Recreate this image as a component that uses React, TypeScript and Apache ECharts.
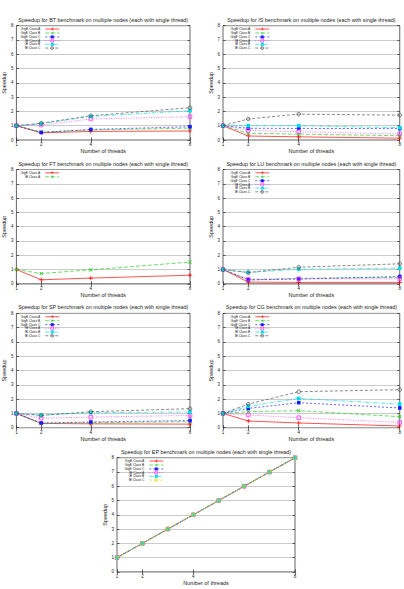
import { useEffect, useRef } from 'react';
import * as echarts from 'echarts';

// Series labels shared by the panels
const seriesNames = ['GigE Class A', 'GigE Class B', 'GigE Class C', 'IB Class A', 'IB Class B', 'IB Class C'];
const ftSeriesNames = ['GigE Class A', 'IB Class A'];

// Node counts on the x axis
const nodeCounts = [1, 2, 4, 8];
const epNodeCounts = [1, 2, 3, 4, 5, 6, 7, 8];
const xTickValues = [1, 2, 4, 8];

// Speedup values, one row per series (GigE A, GigE B, GigE C, IB A, IB B, IB C)
const btSpeedup = [
  [1, 0.5, 0.6, 0.63],
  [1, 0.55, 0.7, 0.83],
  [1, 0.53, 0.74, 0.93],
  [1, 1.05, 1.47, 1.63],
  [1, 1.15, 1.65, 2.05],
  [1, 1.17, 1.7, 2.26],
];
const isSpeedup = [
  [1, 0.28, 0.22, 0.13],
  [1, 0.47, 0.41, 0.3],
  [1, 0.82, 0.81, 0.8],
  [1, 0.68, 0.58, 0.42],
  [1, 1.0, 1.0, 0.86],
  [1, 1.47, 1.81, 1.74],
];
const ftSpeedup = [
  [1, 0.28, 0.4, 0.6],
  [1, 0.72, 0.98, 1.52],
];
const luSpeedup = [
  [1, 0.12, 0.1, 0.1],
  [1, 0.27, 0.38, 0.45],
  [1, 0.28, 0.33, 0.51],
  [1, 0.33, 0.35, 0.35],
  [1, 0.79, 1.02, 1.09],
  [1, 0.79, 1.16, 1.4],
];
const spSpeedup = [
  [1, 0.3, 0.27, 0.25],
  [1, 0.3, 0.35, 0.42],
  [1, 0.33, 0.4, 0.5],
  [1, 0.67, 0.74, 0.86],
  [1, 0.88, 1.05, 1.1],
  [1, 0.86, 1.12, 1.33],
];
const cgSpeedup = [
  [1, 0.47, 0.33, 0.12],
  [1, 1.12, 1.19, 0.77],
  [1, 1.35, 1.75, 1.38],
  [1, 0.89, 0.7, 0.37],
  [1, 1.5, 2.05, 1.65],
  [1, 1.65, 2.52, 2.66],
];
const epSpeedup = [
  [1, 2, 3, 4, 5, 6, 7, 8],
  [1, 2, 3, 4, 5, 6, 7, 8],
  [1, 2, 3, 4, 5, 6, 7, 8],
  [1, 2, 3, 4, 5, 6, 7, 8],
  [1, 2, 3, 4, 5, 6, 7, 8],
  [1, 2, 3, 4, 5, 6, 7, 8],
];

const FONT = '"Liberation Sans", Arial, Helvetica, sans-serif';
const PLUS = 'path://M4.2,0H5.8V4.2H10V5.8H5.8V10H4.2V5.8H0V4.2H4.2Z';

type LineLook = { color: string; symbol: string; rotate: number; filled: boolean; dash: any };

const looks: LineLook[] = [
  { color: '#ff0000', symbol: PLUS, rotate: 0, filled: true, dash: 'solid' },
  { color: '#22cc22', symbol: PLUS, rotate: 45, filled: true, dash: [4, 2] },
  { color: '#1a1aff', symbol: 'rect', rotate: 0, filled: true, dash: [2, 2] },
  { color: '#ff33ff', symbol: 'rect', rotate: 0, filled: false, dash: [1, 1.5] },
  { color: '#00dde6', symbol: 'rect', rotate: 0, filled: true, dash: [4, 1.5, 1, 1.5] },
  { color: '#505050', symbol: 'circle', rotate: 0, filled: false, dash: [3, 2] },
];
const epLooks: LineLook[] = looks.map((l, i) => (i === 5 ? { ...l, color: '#e6d200' } : l));

type Panel = {
  bench: string;
  names: string[];
  x: number[];
  values: number[][];
  looks: LineLook[];
  left: number;
  top: number;
  width: number;
  height: number;
  yNameGap: number;
};

const panels: Panel[] = [
  { bench: 'BT', names: seriesNames, x: nodeCounts, values: btSpeedup, looks, left: 13, top: 25.7, width: 177, height: 114.3, yNameGap: 8 },
  { bench: 'IS', names: seriesNames, x: nodeCounts, values: isSpeedup, looks, left: 223, top: 25.7, width: 180, height: 114.3, yNameGap: 8 },
  { bench: 'FT', names: ftSeriesNames, x: nodeCounts, values: ftSpeedup, looks, left: 13, top: 169.5, width: 177, height: 114.3, yNameGap: 8 },
  { bench: 'LU', names: seriesNames, x: nodeCounts, values: luSpeedup, looks, left: 223, top: 169.5, width: 180, height: 114.3, yNameGap: 8 },
  { bench: 'SP', names: seriesNames, x: nodeCounts, values: spSpeedup, looks, left: 13, top: 313.4, width: 177, height: 114.3, yNameGap: 8 },
  { bench: 'CG', names: seriesNames, x: nodeCounts, values: cgSpeedup, looks, left: 223, top: 313.4, width: 180, height: 114.3, yNameGap: 8 },
  { bench: 'EP', names: seriesNames, x: epNodeCounts, values: epSpeedup, looks: epLooks, left: 117, top: 457.7, width: 178, height: 114.2, yNameGap: 8 },
];

function buildOption() {
  const grid: any[] = [];
  const xAxis: any[] = [];
  const yAxis: any[] = [];
  const legend: any[] = [];
  const series: any[] = [];
  const ink = '#222';

  panels.forEach((p, i) => {
    grid.push({
      left: p.left,
      top: p.top,
      width: p.width,
      height: p.height,
      show: true,
      borderColor: '#222',
      borderWidth: 0.7,
      containLabel: false,
    });

    const tick = { show: true, inside: true, length: 2.5, customValues: xTickValues, lineStyle: { color: '#222', width: 0.7 } };

    xAxis.push({
      type: 'value',
      gridIndex: i,
      position: 'bottom',
      min: 1,
      max: 8,
      interval: 1,
      axisLine: { show: false },
      axisTick: tick,
      axisLabel: { customValues: xTickValues, fontSize: 4.5, margin: 2, color: ink, fontFamily: FONT },
      splitLine: { show: false },
      name: 'Number of threads',
      nameLocation: 'middle',
      nameGap: 7,
      nameTextStyle: { fontSize: 5.5, color: ink, fontFamily: FONT },
    });
    xAxis.push({
      type: 'value',
      gridIndex: i,
      position: 'top',
      min: 1,
      max: 8,
      interval: 1,
      axisLine: { show: false },
      axisTick: tick,
      axisLabel: { show: false },
      splitLine: { show: false },
      name: `Speedup for ${p.bench} benchmark on multiple nodes (each with single thread)`,
      nameLocation: 'middle',
      nameGap: 3.5,
      nameTextStyle: { fontSize: 5.4, color: ink, fontFamily: FONT },
    });

    const yTick = { show: true, inside: true, length: 2.5, lineStyle: { color: '#222', width: 0.7 } };
    yAxis.push({
      type: 'value',
      gridIndex: i,
      position: 'left',
      min: 0,
      max: 8,
      interval: 1,
      axisLine: { show: false },
      axisTick: yTick,
      axisLabel: { fontSize: 4.5, margin: 3, color: ink, fontFamily: FONT },
      splitLine: { show: true, lineStyle: { color: '#b4b4b4', width: 0.7 } },
      name: 'Speedup',
      nameLocation: 'middle',
      nameGap: p.yNameGap,
      nameTextStyle: { fontSize: 5.5, color: ink, fontFamily: FONT },
    });
    yAxis.push({
      type: 'value',
      gridIndex: i,
      position: 'right',
      min: 0,
      max: 8,
      interval: 1,
      axisLine: { show: false },
      axisTick: yTick,
      axisLabel: { show: false },
      splitLine: { show: false },
    });

    const ids = p.names.map((n) => `${p.bench}|${n}`);
    legend.push({
      orient: 'vertical',
      left: p.left + 7.5,
      top: p.top + 1.5,
      align: 'right',
      padding: 0,
      itemGap: 0,
      itemWidth: 14,
      itemHeight: 3.7,
      selectedMode: false,
      data: ids,
      formatter: (name: string) => name.split('|')[1],
      lineStyle: { width: 0.8 },
      itemStyle: { borderWidth: 0.7 },
      textStyle: { fontSize: 3.3, lineHeight: 3.7, color: ink, fontFamily: FONT },
    });

    p.values.forEach((vals, k) => {
      const look = p.looks[k];
      series.push({
        type: 'line',
        name: ids[k],
        xAxisIndex: 2 * i,
        yAxisIndex: 2 * i,
        data: p.x.map((x, j) => [x, vals[j]]),
        symbol: look.symbol,
        symbolSize: look.symbol === PLUS ? 4.5 : 3.6,
        symbolRotate: look.rotate,
        itemStyle: look.filled
          ? { color: look.color, borderWidth: 0 }
          : { color: 'rgba(255,255,255,0)', borderColor: look.color, borderWidth: 0.8 },
        lineStyle: { color: look.color, width: 0.8, type: look.dash, opacity: 0.85 },
        silent: true,
        emphasis: { disabled: true },
        z: 2 + k,
      });
    });
  });

  return {
    animation: false,
    backgroundColor: '#ffffff',
    textStyle: { fontFamily: FONT },
    grid,
    xAxis,
    yAxis,
    legend,
    series,
  };
}

export default function App() {
  const ref = useRef<HTMLDivElement>(null);

  useEffect(() => {
    if (!ref.current) return;
    const chart = echarts.init(ref.current, undefined, { renderer: 'svg' });
    chart.setOption(buildOption() as any);
    return () => chart.dispose();
  }, []);

  return (
    <div
      ref={ref}
      style={{ position: 'absolute', left: 0, top: 0, width: 404, height: 589, background: '#fff' }}
    />
  );
}
